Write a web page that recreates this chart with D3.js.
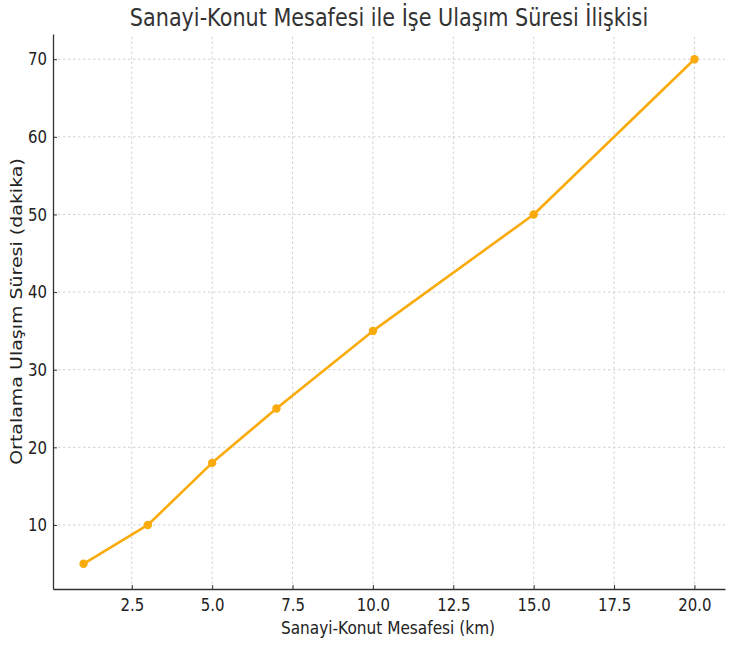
<!DOCTYPE html>
<html>
<head>
<meta charset="utf-8">
<script src="https://cdn.jsdelivr.net/npm/d3@7"></script>
<style>
  body { margin: 0; background: #fff; }
  svg { display: block; font-family: "DejaVu Sans", sans-serif; }
</style>
</head>
<body>
<svg id="chart" width="732" height="650"></svg>
<script>
// data
const distances = [1, 3, 5, 7, 10, 15, 20]
const minutes = [5, 10, 18, 25, 35, 50, 70]
const xTicks = [2.5, 5, 7.5, 10, 12.5, 15, 17.5, 20]
const yTicks = [10, 20, 30, 40, 50, 60, 70]

const titleText = "Sanayi-Konut Mesafesi ile İşe Ulaşım Süresi İlişkisi"
const xLabelText = "Sanayi-Konut Mesafesi (km)"
const yLabelText = "Ortalama Ulaşım Süresi (dakika)"

const width = 732, height = 650
const margin = {top: 34, right: 7, bottom: 61, left: 53}
const squeezeX = 0.83   // the picture's text is narrower than it is tall
const lineColor = "#F9AB0B"
const ink = "#333"

const svg = d3.select("#chart")

// matplotlib style 5% padding around the data
const xPad = (d3.max(distances) - d3.min(distances)) * 0.05
const yPad = (d3.max(minutes) - d3.min(minutes)) * 0.05
const x = d3.scaleLinear()
    .domain([d3.min(distances) - xPad, d3.max(distances) + xPad])
    .range([margin.left, width - margin.right])
const y = d3.scaleLinear()
    .domain([d3.min(minutes) - yPad, d3.max(minutes) + yPad])
    .range([height - margin.bottom, margin.top])

// grid
const grid = svg.append("g")
    .attr("stroke", "#c8c8c8")
    .attr("stroke-width", 0.8)
    .attr("stroke-dasharray", "2.5,2.5")
grid.selectAll("line.gx").data(xTicks).join("line")
    .attr("x1", d => x(d)).attr("x2", d => x(d))
    .attr("y1", y.range()[0]).attr("y2", y.range()[1])
grid.selectAll("line.gy").data(yTicks).join("line")
    .attr("y1", d => y(d)).attr("y2", d => y(d))
    .attr("x1", x.range()[0]).attr("x2", x.range()[1])

// swap text x/y for a transform so the glyphs can be narrowed in place
function squeeze(sel) {
    sel.each(function () {
        const t = d3.select(this)
        const tx = +t.attr("x") || 0, ty = +t.attr("y") || 0
        t.attr("x", null).attr("y", null)
            .attr("transform", `translate(${tx},${ty}) scale(${squeezeX},1)`)
    })
}

const xAxis = svg.append("g")
    .attr("transform", `translate(0,${y.range()[0]})`)
    .call(d3.axisBottom(x).tickValues(xTicks).tickFormat(d3.format(".1f"))
        .tickSizeInner(-4).tickSizeOuter(0).tickPadding(9))
const yAxis = svg.append("g")
    .attr("transform", `translate(${x.range()[0]},0)`)
    .call(d3.axisLeft(y).tickValues(yTicks).tickFormat(d3.format("d"))
        .tickSizeInner(-4).tickSizeOuter(0).tickPadding(6))

for (const ax of [xAxis, yAxis]) {
    ax.select(".domain").attr("stroke", ink).attr("stroke-width", 1.3)
    ax.selectAll(".tick line").attr("stroke", ink).attr("stroke-width", 1)
    ax.selectAll(".tick text")
        .attr("fill", "#222")
        .attr("font-size", 18)
        .attr("font-family", "DejaVu Sans")
        .call(squeeze)
}

// line + markers
const line = d3.line().x((d, i) => x(distances[i])).y(d => y(d))
svg.append("path")
    .datum(minutes)
    .attr("fill", "none")
    .attr("stroke", lineColor)
    .attr("stroke-width", 2.6)
    .attr("stroke-linejoin", "round")
    .attr("d", line)
svg.append("g").selectAll("circle")
    .data(minutes)
    .join("circle")
    .attr("cx", (d, i) => x(distances[i]))
    .attr("cy", d => y(d))
    .attr("r", 4.2)
    .attr("fill", lineColor)

// title and axis labels
svg.append("text")
    .attr("transform", `translate(${(x.range()[0] + x.range()[1]) / 2},26) scale(${squeezeX},1)`)
    .attr("text-anchor", "middle")
    .attr("font-size", 25)
    .attr("fill", ink)
    .text(titleText)

svg.append("text")
    .attr("transform", `translate(${(x.range()[0] + x.range()[1]) / 2 - 1},634) scale(${squeezeX},1)`)
    .attr("text-anchor", "middle")
    .attr("font-size", 18.5)
    .attr("fill", "#222")
    .text(xLabelText)

svg.append("text")
    .attr("transform", `translate(22,${(y.range()[0] + y.range()[1]) / 2}) scale(${squeezeX},1) rotate(-90)`)
    .attr("text-anchor", "middle")
    .attr("font-size", 19)
    .attr("fill", "#222")
    .text(yLabelText)
</script>
</body>
</html>
